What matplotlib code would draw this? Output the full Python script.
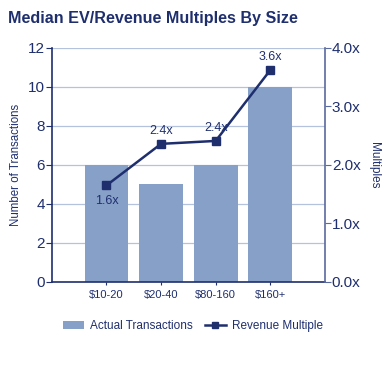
import matplotlib
matplotlib.use("Agg")
import matplotlib.pyplot as plt
from matplotlib.lines import Line2D
from matplotlib.patches import Patch

categories = ["$10-20", "$20-40", "$80-160", "$160+"]
transactions = [6, 5, 6, 10]
multiples = [1.65, 2.36, 2.41, 3.62]
multiple_labels = ["1.6x", "2.4x", "2.4x", "3.6x"]
left_ticks = [0, 2, 4, 6, 8, 10, 12]
right_ticks = [0, 1, 2, 3, 4]
right_tick_labels = ["0.0x", "1.0x", "2.0x", "3.0x", "4.0x"]

navy = "#1f2f6e"
bar_color = "#87a0c8"
grid_color = "#b4c2de"

plt.rcParams['font.family'] = ['Liberation Sans', 'DejaVu Sans']

fig = plt.figure(figsize=(3.9, 3.8), dpi=100)
ax = fig.add_axes([0.133, 0.258, 0.700, 0.616])
x = list(range(len(categories)))
ax.bar(x, transactions, width=0.8, color=bar_color, zorder=2)
ax.set_xlim(-1, 4)
ax.set_ylim(0, 12)
ax.set_yticks(left_ticks)
ax.set_yticklabels([str(t) for t in left_ticks], fontsize=11, color=navy)
ax.set_xticks(x)
ax.set_xticklabels(categories, fontsize=8, color=navy)
ax.tick_params(axis='x', length=2.5, width=0.8, color=navy, pad=3)
ax.tick_params(axis='y', length=4, width=0.8, color=navy, pad=1)
ax.yaxis.grid(True, color=grid_color, linewidth=0.9, zorder=0)
ax.set_axisbelow(True)
ax.spines['top'].set_visible(False)
ax.spines['right'].set_visible(False)
ax.spines['left'].set_color(navy)
ax.spines['bottom'].set_color(navy)
ax.spines['left'].set_linewidth(1.2)
ax.spines['bottom'].set_linewidth(1.2)
ax.set_ylabel("Number of Transactions", fontsize=8.3, color=navy, labelpad=4)

ax2 = ax.twinx()
ax2.set_ylim(0, 4)
ax2.plot(x, multiples, color=navy, linewidth=1.8, marker='s', markersize=6, zorder=5)
for xi, m, lab in zip(x, multiples, multiple_labels):
    dy = -0.27 if xi == 0 else 0.22
    ax2.text(xi, m + dy, lab, ha='center', va='center', fontsize=9, color=navy)
ax2.set_yticks(right_ticks)
ax2.set_yticklabels(right_tick_labels, fontsize=11, color=navy)
ax2.tick_params(axis='y', length=4, width=0.8, color="#5a6a9e", pad=1)
for s in ['top', 'left', 'bottom']:
    ax2.spines[s].set_visible(False)
ax2.spines['right'].set_color("#5a6a9e")
ax2.spines['right'].set_linewidth(1.2)
ax2.set_ylabel("Multiples", fontsize=8.5, color=navy, rotation=270, labelpad=14)

fig.text(0.02, 0.952, "Median EV/Revenue Multiples By Size", fontsize=11.6,
         fontweight='bold', color=navy, ha='left', va='center')

handles = [Patch(facecolor=bar_color, edgecolor='none'),
           Line2D([0], [0], color=navy, linewidth=1.8, marker='s', markersize=5)]
fig.legend(handles, ["Actual Transactions", "Revenue Multiple"], loc='center',
           bbox_to_anchor=(0.495, 0.142), ncol=2, frameon=False, fontsize=8.5,
           handlelength=1.8, handletextpad=0.5, columnspacing=1.0,
           labelcolor=navy)

fig.savefig("out.png", dpi=100)
